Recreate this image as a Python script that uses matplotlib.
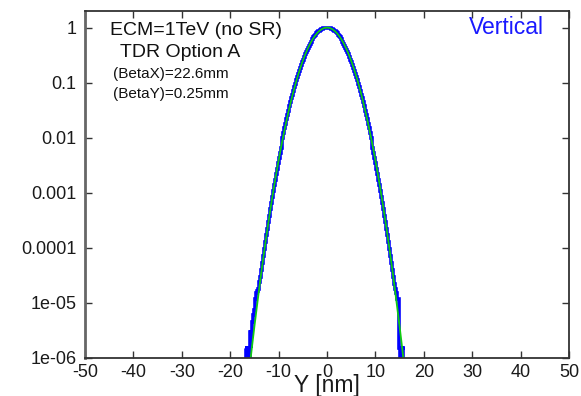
import numpy as np
import matplotlib
matplotlib.use("Agg")
import matplotlib.pyplot as plt

plt.rcParams['font.family'] = ['Liberation Sans', 'DejaVu Sans']

# Histogram, 0.2 nm bins starting at -17 nm
bin_lo = -17.0
bin_w = 0.2
hist_left = [
    1.5e-6, 1e-9, 1.5e-6, 1.5e-6, 1e-9, 3.0e-6, 1.5e-6, 3.0e-6, 4.5e-6, 6.0e-6,
    7.5e-6, 1.2e-5, 1.5e-5, 1.65e-5, 1.8e-5, 2.4e-5, 3.0e-5, 4.0e-5, 5.39e-5, 7.23e-5,
    9.65e-5, 1.28e-4, 1.70e-4, 2.24e-4, 2.93e-4, 3.83e-4, 4.98e-4, 6.44e-4, 8.30e-4, 1.07e-3,
    1.36e-3, 1.73e-3, 2.19e-3, 2.76e-3, 3.46e-3, 4.32e-3, 5.37e-3, 6.64e-3, 8.19e-3, 1.004e-2,
    1.227e-2, 1.49e-2, 1.81e-2, 2.18e-2, 2.61e-2, 3.12e-2, 3.71e-2, 4.39e-2, 5.18e-2, 6.08e-2,
    7.10e-2, 8.26e-2, 9.56e-2, 0.1103, 0.1265, 0.1446, 0.1645, 0.186, 0.210, 0.236,
    0.263, 0.293, 0.325, 0.358, 0.393, 0.430, 0.467, 0.506, 0.546, 0.586,
    0.627, 0.667, 0.707, 0.745, 0.783, 0.818, 0.852, 0.8825, 0.910, 0.935,
    0.956, 0.973, 0.986, 0.995, 0.9994,
]
hist_right = [
    0.9994, 0.995, 0.986, 0.973, 0.956, 0.935, 0.910, 0.8825, 0.852, 0.818,
    0.783, 0.745, 0.707, 0.667, 0.627, 0.586, 0.546, 0.506, 0.467, 0.430,
    0.393, 0.358, 0.325, 0.293, 0.263, 0.236, 0.210, 0.186, 0.1645, 0.1446,
    0.1265, 0.1103, 0.0956, 0.0826, 0.0710, 0.0608, 0.0518, 0.0439, 0.0371, 0.0312,
    0.0261, 0.0218, 0.0181, 0.0149, 0.01227, 0.01004, 0.00819, 0.00664, 0.00537, 0.00432,
    0.00346, 0.00276, 0.00219, 0.00173, 0.00136, 0.00107, 8.30e-4, 6.44e-4, 4.98e-4, 3.83e-4,
    2.93e-4, 2.24e-4, 1.70e-4, 1.28e-4, 9.65e-5, 7.23e-5, 5.39e-5, 4.0e-5, 3.0e-5, 2.2e-5,
    1.8e-5, 1.5e-5, 1.2e-5, 1.2e-5, 1.5e-6, 1e-9, 1.5e-6, 1e-9, 1.5e-6, 1.5e-6,
    1.5e-6,
]

# Fitted curve, sampled every 0.5 nm from -16 to 16
curve_x = [-16.0, -15.5, -15.0, -14.5, -14.0, -13.5, -13.0, -12.5, -12.0, -11.5,
           -11.0, -10.5, -10.0, -9.5, -9.0, -8.5, -8.0, -7.5, -7.0, -6.5,
           -6.0, -5.5, -5.0, -4.5, -4.0, -3.5, -3.0, -2.5, -2.0, -1.5,
           -1.0, -0.5, 0.0, 0.5, 1.0, 1.5, 2.0, 2.5, 3.0, 3.5,
           4.0, 4.5, 5.0, 5.5, 6.0, 6.5, 7.0, 7.5, 8.0, 8.5,
           9.0, 9.5, 10.0, 10.5, 11.0, 11.5, 12.0, 12.5, 13.0, 13.5,
           14.0, 14.5, 15.0, 15.5, 16.0]
curve_y = [6.6e-7, 1.6e-6, 3.73e-6, 8.4e-6, 1.86e-5, 4.0e-5, 8.36e-5, 1.70e-4, 3.35e-4, 6.44e-4,
           1.20e-3, 2.19e-3, 3.86e-3, 6.64e-3, 1.111e-2, 1.806e-2, 2.857e-2, 4.39e-2, 6.57e-2, 9.56e-2,
           0.1353, 0.1863, 0.2494, 0.3247, 0.4111, 0.5063, 0.6065, 0.7066, 0.8007, 0.8825,
           0.9460, 0.9862, 1.0, 0.9862, 0.9460, 0.8825, 0.8007, 0.7066, 0.6065, 0.5063,
           0.4111, 0.3247, 0.2494, 0.1863, 0.1353, 9.56e-2, 6.57e-2, 4.39e-2, 2.857e-2, 1.806e-2,
           1.111e-2, 6.64e-3, 3.86e-3, 2.19e-3, 1.20e-3, 6.44e-4, 3.35e-4, 1.70e-4, 8.36e-5, 4.0e-5,
           1.86e-5, 8.4e-6, 3.73e-6, 1.6e-6, 6.6e-7]

x_ticks = [-50, -40, -30, -20, -10, 0, 10, 20, 30, 40, 50]
y_ticks = [1e-6, 1e-5, 1e-4, 1e-3, 1e-2, 1e-1, 1]
y_tick_labels = ["1e-06", "1e-05", "0.0001", "0.001", "0.01", "0.1", "1"]

W, H = 581, 396
fig = plt.figure(figsize=(W / 100, H / 100), dpi=100)
ax = fig.add_axes([85 / W, 1 - 358 / H, 484 / W, 347 / H])

hist_vals = hist_left + hist_right
edges = bin_lo + bin_w * np.arange(len(hist_vals) + 1)
ax.stairs(hist_vals, edges, color='#0000ff', linewidth=2.6, baseline=None)
ax.plot(curve_x, curve_y, color='#11cc11', linewidth=1.3)

ax.set_yscale('log')
ax.set_xlim(-50, 50)
ax.set_ylim(1e-6, 2.0)
ax.set_xticks(x_ticks)
ax.set_xticklabels([str(t) for t in x_ticks])
ax.set_yticks(y_ticks)
ax.set_yticklabels(y_tick_labels)
ax.minorticks_off()
ax.tick_params(direction='in', length=5, width=1, top=True, right=True,
               labelsize=13, colors='#333333', labelcolor='#1a1a1a')
ax.tick_params(axis='y', pad=6)
ax.tick_params(axis='x', pad=4)
for s in ax.spines.values():
    s.set_color('#333333')
    s.set_linewidth(1.3)
ax.spines['left'].set_color('#666666')
ax.spines['left'].set_linewidth(2)


def ftext(x, y, s, **kw):
    fig.text(x / W, 1 - y / H, s, va='baseline', **kw)


ftext(110, 35, "ECM=1TeV (no SR)", fontsize=14, ha='left', color='#111111')
ftext(120, 57, "TDR Option A", fontsize=14, ha='left', color='#111111')
ftext(113, 78, "(BetaX)=22.6mm", fontsize=11, ha='left', color='#111111')
ftext(113, 98, "(BetaY)=0.25mm", fontsize=11, ha='left', color='#111111')
ftext(544, 34, "Vertical", fontsize=16.5, ha='right', color='#1a1aff')
ftext(327, 392, "Y [nm]", fontsize=16.5, ha='center', color='#1a1a1a')

fig.savefig("out.png", dpi=100)
